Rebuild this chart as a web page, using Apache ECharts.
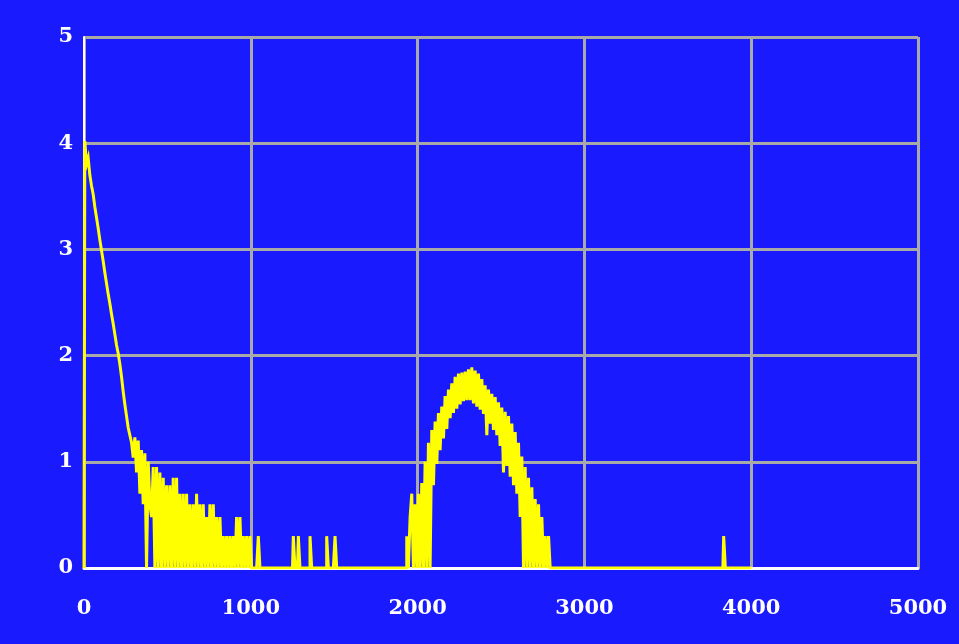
<!DOCTYPE html>
<html>
<head>
<meta charset="utf-8">
<script src="https://cdn.jsdelivr.net/npm/echarts@6/dist/echarts.min.js"></script>
<style>
html,body{margin:0;padding:0;background:#1a1aff;}
#chart{width:959px;height:644px;}
</style>
</head>
<body>
<div id="chart"></div>
<script>
// Histogram bins (bin width 10 units), value = log-scaled height, starting at x = 0
const binWidth = 10;
const histValues = [
  // 0 - 90
  0, 4.02, 3.80, 3.86, 3.70, 3.60, 3.52, 3.40, 3.30, 3.20,
  // 100 - 190
  3.09, 2.99, 2.89, 2.78, 2.68, 2.58, 2.49, 2.39, 2.30, 2.20,
  // 200 - 290
  2.10, 2.02, 1.92, 1.80, 1.66, 1.54, 1.43, 1.32, 1.25, 1.18,
  // 300 - 390
  1.04, 1.23, 0.90, 1.20, 0.70, 1.11, 0.60, 1.08, 0, 1.00,
  // 400 - 490
  0.60, 0.48, 0.95, 0, 0.95, 0, 0.90, 0, 0.85, 0,
  // 500 - 590
  0.78, 0, 0.78, 0, 0.85, 0, 0.85, 0, 0.70, 0,
  // 600 - 690
  0.70, 0, 0.70, 0, 0.60, 0, 0.60, 0, 0.70, 0,
  // 700 - 790
  0.60, 0, 0.60, 0, 0.48, 0, 0.60, 0, 0.60, 0,
  // 800 - 890
  0.48, 0, 0.48, 0, 0.30, 0, 0.30, 0, 0.30, 0,
  // 900 - 990
  0.30, 0, 0.48, 0, 0.48, 0, 0.30, 0, 0.30, 0,
  // 1000 - 1090
  0.30, 0, 0, 0, 0, 0.30, 0, 0, 0, 0,
  // 1100 - 1190
  0, 0, 0, 0, 0, 0, 0, 0, 0, 0,
  // 1200 - 1290
  0, 0, 0, 0, 0, 0, 0.30, 0, 0, 0.30,
  // 1300 - 1390
  0, 0, 0, 0, 0, 0, 0.30, 0, 0, 0,
  // 1400 - 1490
  0, 0, 0, 0, 0, 0, 0.30, 0, 0, 0,
  // 1500 - 1590
  0, 0.30, 0, 0, 0, 0, 0, 0, 0, 0,
  // 1600 - 1690
  0, 0, 0, 0, 0, 0, 0, 0, 0, 0,
  // 1700 - 1790
  0, 0, 0, 0, 0, 0, 0, 0, 0, 0,
  // 1800 - 1890
  0, 0, 0, 0, 0, 0, 0, 0, 0, 0,
  // 1900 - 1990
  0, 0, 0, 0, 0.30, 0, 0.48, 0.70, 0, 0.60,
  // 2000 - 2090
  0, 0.70, 0, 0.80, 0, 1.00, 0, 1.18, 0, 1.30,
  // 2100 - 2190
  0.78, 1.38, 0.98, 1.46, 1.11, 1.52, 1.22, 1.62, 1.31, 1.68,
  // 2200 - 2290
  1.41, 1.74, 1.46, 1.80, 1.50, 1.83, 1.54, 1.84, 1.57, 1.85,
  // 2300 - 2390
  1.58, 1.87, 1.58, 1.89, 1.55, 1.86, 1.52, 1.83, 1.49, 1.78,
  // 2400 - 2490
  1.45, 1.72, 1.25, 1.68, 1.36, 1.64, 1.30, 1.61, 1.25, 1.56,
  // 2500 - 2590
  1.15, 1.51, 0.90, 1.47, 0.96, 1.43, 0.86, 1.36, 0.78, 1.28,
  // 2600 - 2690
  0.70, 1.18, 0.48, 1.05, 0, 0.95, 0, 0.85, 0, 0.76,
  // 2700 - 2790
  0, 0.65, 0, 0.60, 0, 0.48, 0, 0.30, 0, 0.30,
  // 2800 - 2890
  0, 0, 0, 0, 0, 0, 0, 0, 0, 0,
  // 2900 - 2990
  0, 0, 0, 0, 0, 0, 0, 0, 0, 0,
  // 3000 - 3090
  0, 0, 0, 0, 0, 0, 0, 0, 0, 0,
  // 3100 - 3190
  0, 0, 0, 0, 0, 0, 0, 0, 0, 0,
  // 3200 - 3290
  0, 0, 0, 0, 0, 0, 0, 0, 0, 0,
  // 3300 - 3390
  0, 0, 0, 0, 0, 0, 0, 0, 0, 0,
  // 3400 - 3490
  0, 0, 0, 0, 0, 0, 0, 0, 0, 0,
  // 3500 - 3590
  0, 0, 0, 0, 0, 0, 0, 0, 0, 0,
  // 3600 - 3690
  0, 0, 0, 0, 0, 0, 0, 0, 0, 0,
  // 3700 - 3790
  0, 0, 0, 0, 0, 0, 0, 0, 0, 0,
  // 3800 - 3890
  0, 0, 0, 0, 0.30, 0, 0, 0, 0, 0,
  // 3900 - 3990
  0, 0, 0, 0, 0, 0, 0, 0, 0, 0,
  // 4000
  0
];
const xTickValues = [0, 1000, 2000, 3000, 4000, 5000];
const yTickValues = [0, 1, 2, 3, 4, 5];

const seriesData = histValues.map((v, i) => [i * binWidth, v]);

const labelFont = {
  color: '#ffffff',
  fontFamily: 'DejaVu Serif',
  fontSize: 21,
  fontWeight: 'bold'
};

const chart = echarts.init(document.getElementById('chart'), null, {renderer: 'canvas'});
chart.setOption({
  animation: false,
  backgroundColor: '#1a1aff',
  grid: {left: 84, right: 41, top: 37, bottom: 76, containLabel: false},
  xAxis: {
    type: 'value',
    min: xTickValues[0],
    max: xTickValues[xTickValues.length - 1],
    interval: xTickValues[1] - xTickValues[0],
    axisLine: {show: true, onZero: false, lineStyle: {color: '#ffffff', width: 3}},
    axisTick: {show: false},
    splitLine: {show: true, lineStyle: {color: '#a9a9a9', width: 3}},
    axisLabel: Object.assign({margin: 30, showMaxLabel: true, showMinLabel: true,
      formatter: v => String(v)}, labelFont)
  },
  yAxis: {
    type: 'value',
    min: yTickValues[0],
    max: yTickValues[yTickValues.length - 1],
    interval: yTickValues[1] - yTickValues[0],
    axisLine: {show: true, onZero: false, lineStyle: {color: '#ffffff', width: 2}},
    axisTick: {show: false},
    splitLine: {show: true, lineStyle: {color: '#a9a9a9', width: 3}},
    axisLabel: Object.assign({margin: 11, showMaxLabel: true, showMinLabel: true,
      formatter: v => String(v)}, labelFont)
  },
  series: [{
    type: 'line',
    data: seriesData,
    step: 'middle',
    showSymbol: false,
    symbol: 'none',
    lineStyle: {color: '#ffff00', width: 3, join: 'miter'},
    z: 5
  }]
});

// keep every short histogram step (the line view skips sub-2px segments by default)
(function keepShortSegments() {
  const zr = chart.getZr();
  zr.storage.getDisplayList(true).forEach(el => {
    if (el.shape && el.shape.points) {
      el.segmentIgnoreThreshold = 0;
      if (el.dirtyShape) el.dirtyShape();
    }
  });
  zr.refreshImmediately();
})();
</script>
</body>
</html>
